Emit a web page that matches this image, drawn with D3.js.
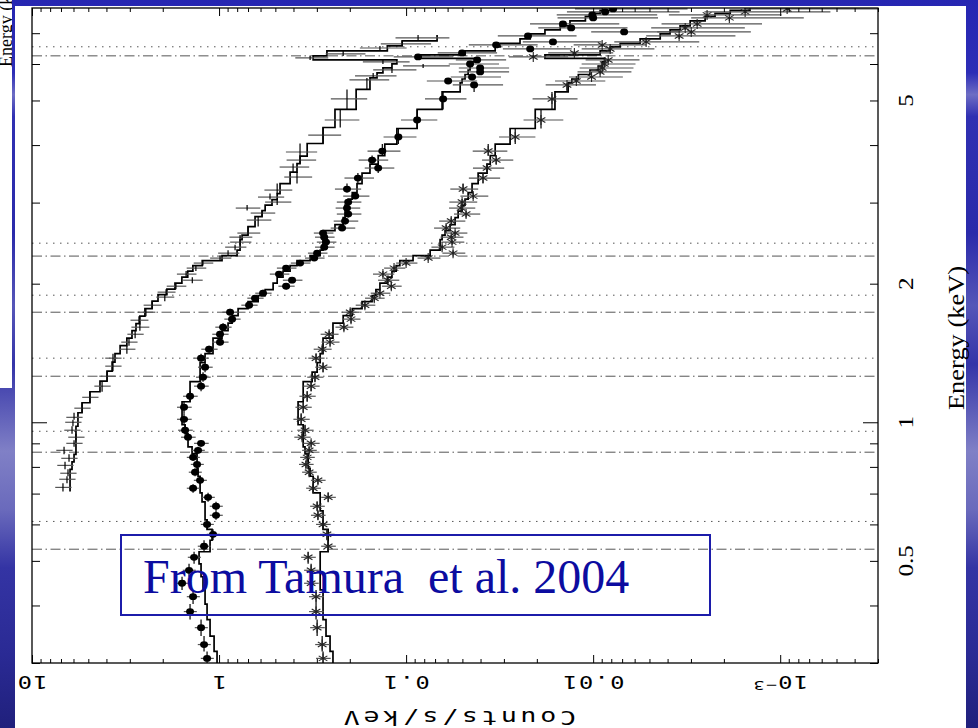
<!DOCTYPE html>
<html>
<head>
<meta charset="utf-8">
<script src="https://cdn.jsdelivr.net/npm/d3@7"></script>
<style>
body { margin: 0; background: #fff; }
svg { display: block; }
</style>
</head>
<body>
<div id="chart"></div>
<script>
/*global d3*/

// energy grid shared by the two lower spectra (keV)
var energyB = [0.307,0.329,0.358,0.388,0.418,0.447,0.477,0.509,0.538,0.571,
  0.600,0.628,0.657,0.687,0.719,0.748,0.779,0.810,0.839,0.869,
  0.900,0.928,0.961,1.015,1.078,1.139,1.198,1.253,1.317,1.378,
  1.441,1.493,1.553,1.609,1.675,1.734,1.796,1.860,1.907,1.975,
  2.035,2.098,2.162,2.217,2.273,2.330,2.401,2.462,2.524,2.576,
  2.641,2.735,2.833,2.919,3.008,3.099,3.210,3.392,3.566,3.711,
  3.882,4.165,4.535,5.038,5.403,5.512,5.623,5.766,5.882,6.001,
  6.124,6.216,6.341,6.470,6.601,6.701,6.904,7.044,7.187,7.332,
  7.557,7.671,7.787,7.904];

// filled-dot spectrum (counts/s/keV) and its model
var countsDot = [1.159,1.203,1.248,1.429,1.377,1.577,1.447,1.360,1.203,1.077,
  1.159,1.038,1.038,1.145,1.377,1.263,1.344,1.311,1.377,1.295,
  1.248,1.465,1.519,1.539,1.539,1.429,1.248,1.218,1.188,1.248,
  1.131,0.988,0.988,0.952,0.852,0.873,0.691,0.642,0.582,0.438,
  0.407,0.478,0.438,0.369,0.310,0.299,0.274,0.268,0.274,0.278,
  0.220,0.212,0.204,0.207,0.204,0.187,0.207,0.181,0.141,0.152,
  0.134,0.110,0.0873,0.0634,0.0433,0.0596,0.0444,0.0402,0.0402,0.0455,
  0.0417,0.0863,0.0502,0.0217,0.0330,0.0164,0.0223,0.00683,0.0131,0.0145,
  0.0100,0.0101,0.00863,0.00782];
var modelDot = [1.025,1.063,1.117,1.159,1.188,1.218,1.248,1.279,1.117,1.090,
  1.159,1.188,1.188,1.233,1.263,1.263,1.295,1.311,1.311,1.394,
  1.465,1.465,1.519,1.577,1.577,1.429,1.429,1.263,1.263,1.188,
  1.077,1.077,0.964,0.895,0.852,0.791,0.700,0.618,0.567,0.514,
  0.489,0.455,0.417,0.383,0.326,0.288,0.278,0.278,0.278,0.278,
  0.240,0.217,0.212,0.212,0.204,0.194,0.183,0.172,0.156,0.141,
  0.130,0.112,0.0873,0.0642,0.0514,0.0502,0.0484,0.0466,0.0455,0.0444,
  0.0428,0.0863,0.0484,0.0334,0.0314,0.0246,0.0217,0.0181,0.0150,0.0133,
  0.0110,0.0101,0.00918,0.00811];
var errDot = [0.08,0.08,0.08,0.08,0.08,0.08,0.08,0.08,0.08,0.08,
  0.08,0.08,0.08,0.08,0.08,0.08,0.08,0.08,0.08,0.08,
  0.09,0.09,0.09,0.09,0.09,0.09,0.09,0.09,0.09,0.09,
  0.10,0.10,0.10,0.10,0.10,0.10,0.10,0.10,0.10,0.10,
  0.12,0.12,0.12,0.12,0.12,0.12,0.12,0.12,0.12,0.12,
  0.15,0.15,0.15,0.15,0.15,0.16,0.16,0.18,0.18,0.18,
  0.20,0.20,0.22,0.25,0.30,0.30,0.30,0.30,0.30,0.30,
  0.30,0.35,0.35,0.40,0.40,0.45,0.45,0.50,0.50,0.50,
  0.55,0.55,0.60,0.60];

// asterisk spectrum and its model
var countsStar = [0.278,0.281,0.299,0.303,0.303,0.322,0.322,0.334,0.261,0.265,
  0.278,0.296,0.299,0.261,0.314,0.296,0.330,0.343,0.338,0.330,
  0.322,0.360,0.347,0.364,0.355,0.338,0.322,0.307,0.278,0.303,
  0.281,0.255,0.258,0.215,0.197,0.199,0.166,0.148,0.138,0.120,
  0.125,0.133,0.116,0.100,0.0762,0.0561,0.0642,0.0568,0.0574,0.0547,
  0.0611,0.0574,0.0478,0.0508,0.0502,0.0438,0.0496,0.0388,0.0369,0.0330,
  0.0364,0.0261,0.0190,0.0166,0.0138,0.0123,0.0102,0.00918,0.00895,0.00873,
  0.00831,0.0209,0.0126,0.00811,0.00895,0.00521,0.00347,0.00299,0.00322,0.00278,
  0.00187,0.00246,0.00154,0.000918];
var modelStar = [0.246,0.255,0.268,0.278,0.278,0.288,0.288,0.288,0.261,0.261,
  0.278,0.278,0.288,0.288,0.314,0.314,0.326,0.334,0.334,0.347,
  0.355,0.355,0.355,0.378,0.378,0.355,0.355,0.318,0.299,0.288,
  0.278,0.278,0.246,0.246,0.217,0.194,0.172,0.152,0.145,0.138,
  0.126,0.119,0.113,0.108,0.0918,0.0744,0.0658,0.0658,0.0642,0.0619,
  0.0582,0.0547,0.0527,0.0502,0.0484,0.0466,0.0444,0.0412,0.0369,0.0355,
  0.0334,0.0278,0.0204,0.0160,0.0136,0.0130,0.0120,0.0104,0.00940,0.00895,
  0.00863,0.0181,0.00918,0.00811,0.00717,0.00561,0.00438,0.00388,0.00343,0.00303,
  0.00252,0.00223,0.00185,0.00145];
var errStar = [0.09,0.09,0.09,0.09,0.09,0.09,0.09,0.09,0.09,0.09,
  0.09,0.09,0.09,0.09,0.09,0.09,0.09,0.09,0.09,0.09,
  0.10,0.10,0.10,0.10,0.10,0.10,0.10,0.10,0.10,0.10,
  0.11,0.11,0.11,0.11,0.11,0.11,0.12,0.12,0.12,0.12,
  0.13,0.13,0.13,0.13,0.14,0.14,0.14,0.14,0.14,0.14,
  0.16,0.16,0.16,0.16,0.17,0.17,0.17,0.19,0.19,0.19,
  0.21,0.22,0.24,0.27,0.30,0.30,0.32,0.32,0.32,0.32,
  0.32,0.35,0.38,0.42,0.42,0.48,0.50,0.52,0.52,0.55,
  0.60,0.60,0.65,0.70];

// cross spectrum (own energy grid) and its model
var energyCross = [0.722,0.752,0.775,0.806,0.835,0.869,0.900,0.928,0.961,1.000,
  1.025,1.073,1.133,1.198,1.259,1.324,1.378,1.441,1.493,1.553,
  1.609,1.666,1.734,1.796,1.870,1.917,1.975,2.035,2.098,2.162,
  2.217,2.273,2.330,2.401,2.462,2.524,2.576,2.749,2.847,2.919,
  3.008,3.084,3.194,3.409,3.584,3.711,3.864,4.206,4.535,5.038,
  5.540,5.652,5.824,5.942,6.062,6.185,6.310,6.501,6.634,6.836];
var countsCross = [6.83,6.50,6.42,6.66,6.34,6.74,5.96,5.82,6.11,6.04,
  5.96,5.40,4.90,4.22,3.97,3.69,3.69,3.11,3.03,2.81,
  2.65,2.68,2.46,2.28,1.95,1.92,1.70,1.39,1.50,1.33,
  1.22,0.988,0.895,0.821,0.772,0.772,0.700,0.618,0.589,0.708,
  0.489,0.534,0.489,0.383,0.402,0.369,0.369,0.278,0.225,0.207,
  0.162,0.150,0.119,0.0811,0.133,0.326,0.217,0.138,0.105,0.0863];
var modelCross = [6.26,6.26,6.26,6.11,5.96,5.82,5.82,5.82,5.82,5.68,
  5.68,5.40,4.90,4.33,3.97,3.73,3.60,3.38,3.11,2.92,
  2.78,2.65,2.49,2.28,2.12,1.90,1.72,1.58,1.47,1.38,
  1.23,0.964,0.801,0.772,0.772,0.753,0.700,0.642,0.589,0.567,
  0.521,0.489,0.472,0.417,0.383,0.369,0.338,0.278,0.240,0.185,
  0.156,0.143,0.133,0.119,0.112,0.314,0.265,0.126,0.105,0.0683];
var errCross = [0.10,0.10,0.10,0.10,0.10,0.10,0.10,0.10,0.10,0.10,
  0.10,0.10,0.10,0.10,0.10,0.10,0.10,0.10,0.10,0.10,
  0.11,0.11,0.11,0.11,0.11,0.11,0.12,0.12,0.12,0.12,
  0.12,0.13,0.13,0.13,0.13,0.14,0.14,0.15,0.15,0.15,
  0.16,0.16,0.17,0.17,0.18,0.18,0.19,0.20,0.21,0.22,
  0.24,0.25,0.26,0.28,0.28,0.20,0.24,0.28,0.30,0.32];

// line energies marked across the plot (keV)
var linesDotted = [6.54, 2.449, 1.888, 1.378, 0.956, 0.609];
var linesDashDot = [6.25, 2.296, 1.734, 1.259, 0.861, 0.530];

var countTicks = [10, 1, 0.1, 0.01, 0.001];
var countLabels = ["10", "1", "0.1", "0.01", "10|\u22123"];
var energyTicks = [0.5, 1, 2, 5];
var energyLabels = ["0.5", "1", "2", "5"];

var W = 978, H = 728,
    pL = 32, pR = 878, pT = 8, pB = 663;

var svg = d3.select("#chart").append("svg")
    .attr("width", W)
    .attr("height", H);

var defs = svg.append("defs");

// slide background, blue with pale streaks
var grad = defs.append("linearGradient")
    .attr("id", "slideBlue")
    .attr("x1", 0).attr("y1", 0).attr("x2", 0).attr("y2", 1);
[[0, "#2626b2"], [0.1, "#2d2db6"], [0.13, "#6d6dc4"], [0.16, "#3030b2"],
 [0.32, "#2a2aaa"], [0.42, "#5656b8"], [0.5, "#3434a8"], [0.62, "#8080c6"],
 [0.7, "#6a6abc"], [0.78, "#3434a4"], [0.9, "#2a2a94"], [1, "#20207c"]]
  .forEach(function (s) {
    grad.append("stop").attr("offset", s[0]).attr("stop-color", s[1]);
  });

svg.append("rect")
    .attr("width", W)
    .attr("height", H)
    .style("fill", "url(#slideBlue)");

// scrap of another picture in the top left corner
defs.append("clipPath").attr("id", "scrap")
  .append("rect").attr("x", 0).attr("y", 0).attr("width", 12).attr("height", 388);
svg.append("rect")
    .attr("x", 0).attr("y", 0)
    .attr("width", 12).attr("height", 388)
    .style("fill", "#fff");
svg.append("g")
    .attr("clip-path", "url(#scrap)")
  .append("text")
    .attr("transform", "translate(12,67) rotate(-90)")
    .style("font-family", "'Liberation Serif', serif")
    .style("font-size", "18px")
    .text("Energy (keV)");

// white page of the figure
svg.append("rect")
    .attr("x", 15).attr("y", 6)
    .attr("width", 951).attr("height", 722)
    .style("fill", "#fff");

var x = d3.scaleLog().domain([10, 3e-4]).range([pL, pR]);
var y = d3.scaleLog().domain([0.3, 7.94]).range([pB, pT]);

defs.append("clipPath").attr("id", "plotArea")
  .append("rect")
    .attr("x", pL).attr("y", pT)
    .attr("width", pR - pL).attr("height", pB - pT);

var plot = svg.append("g").attr("clip-path", "url(#plotArea)");

// dotted and dash-dot line markers
plot.selectAll("line.dotted")
    .data(linesDotted)
  .enter().append("line")
    .attr("class", "dotted")
    .attr("x1", pL).attr("x2", pR)
    .attr("y1", function (d) { return y(d); })
    .attr("y2", function (d) { return y(d); })
    .style("stroke", "#555")
    .style("stroke-width", 1)
    .style("stroke-dasharray", "1.5,5.5");

plot.selectAll("line.dashdot")
    .data(linesDashDot)
  .enter().append("line")
    .attr("class", "dashdot")
    .attr("x1", pL).attr("x2", pR)
    .attr("y1", function (d) { return y(d); })
    .attr("y2", function (d) { return y(d); })
    .style("stroke", "#555")
    .style("stroke-width", 1)
    .style("stroke-dasharray", "10,3.5,1.5,3.5");

function rows(es, cs, ms, fs) {
  return es.map(function (e, i) {
    var lo = i > 0 ? Math.sqrt(es[i - 1] * e) : e * e / Math.sqrt(e * es[i + 1]),
        hi = i < es.length - 1 ? Math.sqrt(e * es[i + 1]) : e * e / Math.sqrt(es[i - 1] * e);
    return { e: e, c: cs[i], m: ms[i], f: fs[i], lo: lo, hi: hi };
  });
}

var series = [
  { name: "cross", data: rows(energyCross, countsCross, modelCross, errCross) },
  { name: "dot", data: rows(energyB, countsDot, modelDot, errDot) },
  { name: "star", data: rows(energyB, countsStar, modelStar, errStar) }
];

var step = d3.line()
    .x(function (d) { return x(d[0]); })
    .y(function (d) { return y(d[1]); });

series.forEach(function (s) {
  var g = plot.append("g").attr("class", s.name);

  // folded model as a histogram
  var pts = [];
  s.data.forEach(function (d) { pts.push([d.m, d.lo]); pts.push([d.m, d.hi]); });
  g.append("path")
      .attr("d", step(pts))
      .style("fill", "none")
      .style("stroke", "#000")
      .style("stroke-width", 1.7);

  // count errors
  g.selectAll("line.xerr")
      .data(s.data)
    .enter().append("line")
      .attr("class", "xerr")
      .attr("x1", function (d) { return x(d.c * (1 + d.f)); })
      .attr("x2", function (d) { return x(Math.max(d.c * (1 - d.f), 1e-5)); })
      .attr("y1", function (d) { return y(d.e); })
      .attr("y2", function (d) { return y(d.e); })
      .style("stroke", "#555")
      .style("stroke-width", 1.2);

  // energy bin widths
  g.selectAll("line.ybin")
      .data(s.data)
    .enter().append("line")
      .attr("class", "ybin")
      .attr("x1", function (d) { return x(d.c); })
      .attr("x2", function (d) { return x(d.c); })
      .attr("y1", function (d) { return y(d.lo); })
      .attr("y2", function (d) { return y(d.hi); })
      .style("stroke", "#000")
      .style("stroke-width", 1.2);

  if (s.name === "dot") {
    g.selectAll("ellipse")
        .data(s.data)
      .enter().append("ellipse")
        .attr("cx", function (d) { return x(d.c); })
        .attr("cy", function (d) { return y(d.e); })
        .attr("rx", 4)
        .attr("ry", 3.4)
        .style("fill", "#000");
  }
  if (s.name === "star") {
    var star = g.selectAll("g.star")
        .data(s.data)
      .enter().append("g")
        .attr("class", "star")
        .attr("transform", function (d) { return "translate(" + x(d.c) + "," + y(d.e) + ")"; });
    [30, 90, 150].forEach(function (a) {
      var r = a * Math.PI / 180;
      star.append("line")
          .attr("x1", -5 * Math.cos(r)).attr("y1", -5 * Math.sin(r))
          .attr("x2", 5 * Math.cos(r)).attr("y2", 5 * Math.sin(r))
          .style("stroke", "#222")
          .style("stroke-width", 1.1);
    });
  }
});

// frame
svg.append("rect")
    .attr("x", pL).attr("y", pT)
    .attr("width", pR - pL).attr("height", pB - pT)
    .style("fill", "none")
    .style("stroke", "#000")
    .style("stroke-width", 1.3);

function isDecade(v) {
  var l = Math.log10(v);
  return Math.abs(l - Math.round(l)) < 1e-6;
}

var cMajor = x.ticks().filter(isDecade),
    cMinor = x.ticks().filter(function (v) { return !isDecade(v); }),
    eAll = y.ticks(),
    eMajor = eAll.filter(isDecade),
    eMinor = eAll.filter(function (v) { return !isDecade(v); });

function tickAxis(axis, at, vals, size) {
  var g = svg.append("g")
      .attr("transform", at)
      .call(axis.tickValues(vals).tickSize(-size).tickFormat(""));
  g.select(".domain").remove();
  g.selectAll(".tick line").style("stroke", "#000").style("stroke-width", 1);
}

tickAxis(d3.axisBottom(x), "translate(0," + pB + ")", cMinor, 4);
tickAxis(d3.axisBottom(x), "translate(0," + pB + ")", cMajor, 8);
tickAxis(d3.axisTop(x), "translate(0," + pT + ")", cMinor, 4);
tickAxis(d3.axisTop(x), "translate(0," + pT + ")", cMajor, 8);
tickAxis(d3.axisLeft(y), "translate(" + pL + ",0)", eMinor, 8);
tickAxis(d3.axisLeft(y), "translate(" + pL + ",0)", eMajor, 15);
tickAxis(d3.axisRight(y), "translate(" + pR + ",0)", eMinor, 8);
tickAxis(d3.axisRight(y), "translate(" + pR + ",0)", eMajor, 15);

// count labels, printed upside down and drawn wide
var cl = svg.selectAll("text.clab")
    .data(countTicks)
  .enter().append("text")
    .attr("class", "clab")
    .attr("text-anchor", "middle")
    .attr("transform", function (d) { return "translate(" + x(d) + ",676) rotate(180) scale(1.4,1)"; })
    .style("font-family", "'DejaVu Sans Mono', monospace")
    .style("font-size", "17px")
    .style("letter-spacing", "1px")
    .style("fill", "#000");
cl.each(function (d, i) {
  var parts = countLabels[i].split("|"), t = d3.select(this);
  t.append("tspan").text(parts[0]);
  if (parts[1]) {
    t.append("tspan").attr("dy", -5).style("font-size", "13px").text(parts[1]);
  }
});

svg.append("text")
    .attr("text-anchor", "middle")
    .attr("transform", "translate(" + ((pL + pR) / 2 + 3) + ",711) rotate(180) scale(1.4,1)")
    .style("font-family", "'DejaVu Sans Mono', monospace")
    .style("font-size", "19px")
    .style("letter-spacing", "2.6px")
    .style("fill", "#000")
    .text("Counts/s/keV");

// energy labels, reading upward on the right (long, narrow glyphs)
svg.selectAll("text.elab")
    .data(energyTicks)
  .enter().append("text")
    .attr("class", "elab")
    .attr("text-anchor", "middle")
    .attr("transform", function (d) { return "translate(913," + y(d) + ") rotate(-90) scale(1.2,1)"; })
    .style("font-family", "'Liberation Serif', serif")
    .style("font-size", "21px")
    .style("fill", "#000")
    .text(function (d, i) { return energyLabels[i]; });

svg.append("text")
    .attr("text-anchor", "middle")
    .attr("transform", "translate(964,338) rotate(-90) scale(1.15,1)")
    .style("font-family", "'Liberation Serif', serif")
    .style("font-size", "23px")
    .style("fill", "#000")
    .text("Energy (keV)");

// citation box
svg.append("rect")
    .attr("x", 121).attr("y", 535)
    .attr("width", 589).attr("height", 80)
    .style("fill", "none")
    .style("stroke", "#1c1caa")
    .style("stroke-width", 2);

svg.append("text")
    .attr("x", 143).attr("y", 593)
    .style("font-family", "'Liberation Serif', 'Times New Roman', serif")
    .style("font-size", "48px")
    .style("white-space", "pre")
    .style("fill", "#0c0ca0")
    .text("From Tamura  et al. 2004");
</script>
</body>
</html>
